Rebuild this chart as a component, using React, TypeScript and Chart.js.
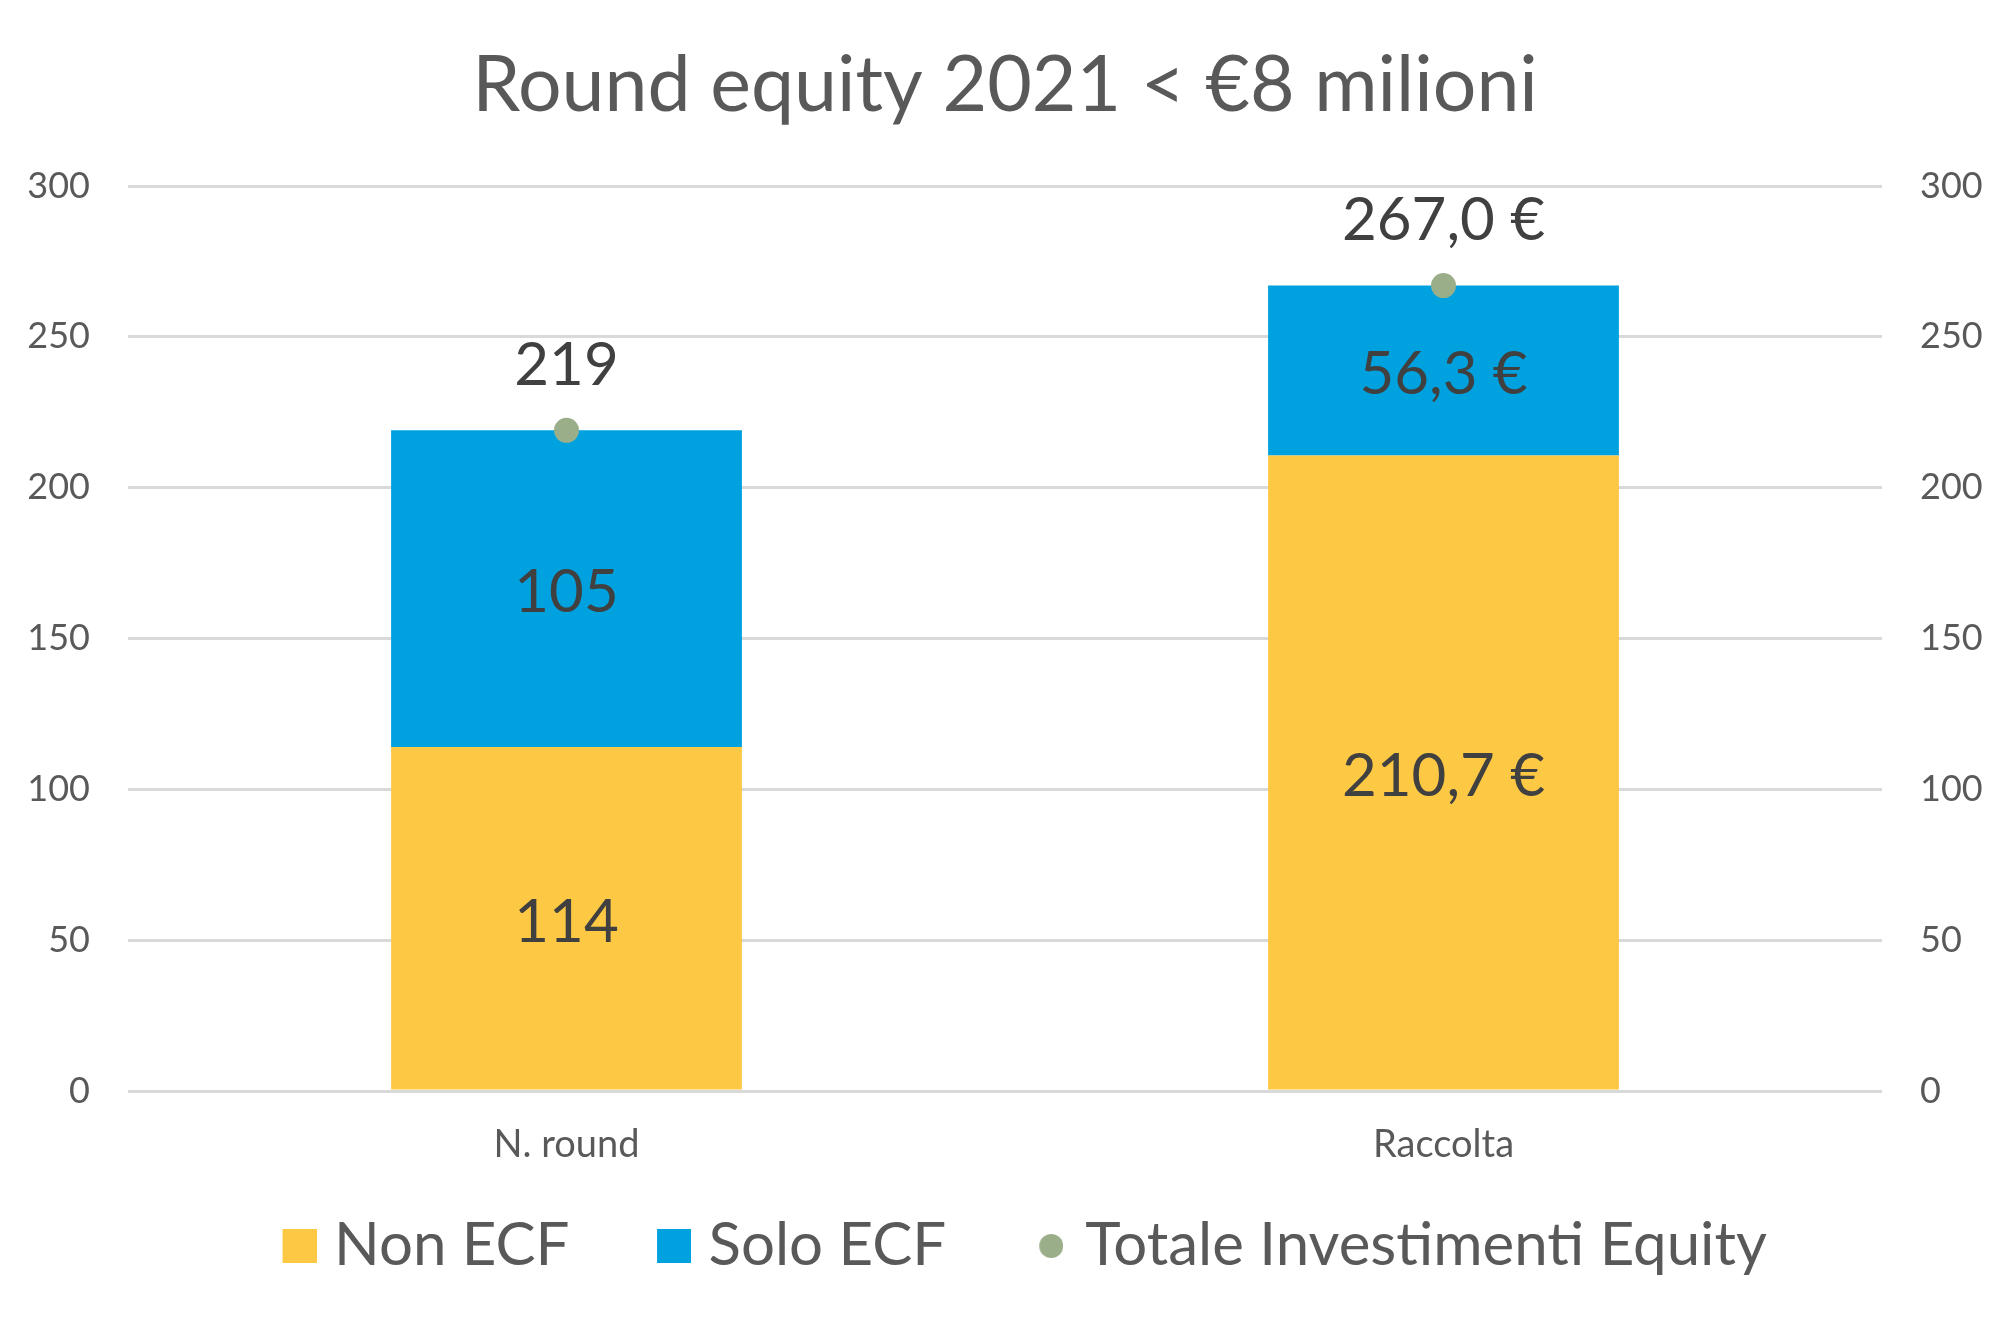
import React, { useEffect, useRef } from 'react';
import { Chart, registerables } from 'chart.js';

Chart.register(...registerables);

const chartTitle = 'Round equity 2021 < €8 milioni';
const categories = ['N. round', 'Raccolta'];
const seriesNames = ['Non ECF', 'Solo ECF', 'Totale Investimenti Equity'];
const nonEcf = [114, 210.7];
const soloEcf = [105, 56.3];
const totale = [219, 267.0];
const yMin = 0;
const yMax = 300;
const yStep = 50;

const COLORS = ['#FDC843', '#00A1DF', '#9AAF89'];
const FONT = 'Lato, "Open Sans", sans-serif';
const TEXT = '#595959';

// legend geometry
const LEG_FONT = 60;
const LEG_PAD = 48;
const LEG_LEAD = 39.5; // space before marker inside an item
const LEG_BOX_W = 61; // pointStyleWidth

function fmt(v: number, i: number): string {
  if (i === 0) return String(Math.round(v));
  return v.toFixed(1).replace('.', ',') + ' €';
}

function makeSquare(color: string): HTMLCanvasElement {
  const half = LEG_BOX_W / 2;
  const R = LEG_LEAD + 34 - half;
  const c = document.createElement('canvas');
  c.width = Math.round(2 * R);
  c.height = 34;
  const ctx = c.getContext('2d')!;
  ctx.fillStyle = color;
  ctx.fillRect(R + (LEG_LEAD - half), 0, 34, 34);
  return c;
}

function makeCircle(color: string): HTMLCanvasElement {
  const half = LEG_BOX_W / 2;
  const cx = LEG_BOX_W + 30 - 22 - 12 - half; // relative to image centre
  const R = cx + 12;
  const c = document.createElement('canvas');
  c.width = Math.round(2 * R);
  c.height = 34;
  const ctx = c.getContext('2d')!;
  ctx.fillStyle = color;
  ctx.beginPath();
  ctx.arc(R + cx, 17, 12, 0, Math.PI * 2);
  ctx.fill();
  return c;
}

const valueLabels = {
  id: 'valueLabels',
  afterDatasetsDraw(chart: any) {
    const ctx = chart.ctx;
    ctx.save();
    ctx.font = `60px ${FONT}`;
    ctx.fillStyle = '#404040';
    ctx.textAlign = 'center';
    ctx.textBaseline = 'middle';
    chart.data.datasets.forEach((ds: any, di: number) => {
      const meta = chart.getDatasetMeta(di);
      meta.data.forEach((el: any, i: number) => {
        const v = ds.data[i];
        if (meta.type === 'bar') {
          ctx.fillText(fmt(v, i), el.x, (el.y + el.base) / 2 + 4);
        } else {
          ctx.fillText(fmt(v, i), el.x, el.y - 65);
        }
      });
    });
    ctx.restore();
  },
};

export default function App() {
  const ref = useRef<HTMLCanvasElement>(null);

  useEffect(() => {
    document.body.style.margin = '0';
    const markers = [makeSquare(COLORS[0]), makeSquare(COLORS[1]), makeCircle(COLORS[2])];
    const chart = new Chart(ref.current!, {
      type: 'bar',
      data: {
        labels: categories,
        datasets: [
          {
            type: 'bar',
            label: seriesNames[0],
            data: nonEcf,
            backgroundColor: COLORS[0],
            yAxisID: 'y',
            barPercentage: 0.8,
            categoryPercentage: 0.5,
            order: 1,
          },
          {
            type: 'bar',
            label: seriesNames[1],
            data: soloEcf,
            backgroundColor: COLORS[1],
            yAxisID: 'y',
            barPercentage: 0.8,
            categoryPercentage: 0.5,
            order: 1,
          },
          {
            type: 'line',
            label: seriesNames[2],
            data: totale,
            showLine: false,
            backgroundColor: COLORS[2],
            borderColor: COLORS[2],
            pointRadius: 12.5,
            pointBorderWidth: 0,
            yAxisID: 'y2',
            order: 0,
          } as any,
        ],
      },
      options: {
        responsive: false,
        animation: false,
        devicePixelRatio: 1,
        layout: { padding: { left: 0, right: 0, top: 0, bottom: 37 } },
        plugins: {
          title: {
            display: true,
            text: chartTitle,
            color: TEXT,
            font: { family: FONT, size: 77, weight: 'normal' as any, lineHeight: 1.2 },
            padding: { top: 40, bottom: 53.6 },
          },
          legend: {
            position: 'bottom',
            labels: {
              usePointStyle: true,
              pointStyleWidth: LEG_BOX_W,
              padding: LEG_PAD,
              color: TEXT,
              font: { family: FONT, size: LEG_FONT },
              generateLabels: (c: any) =>
                c.data.datasets.map((ds: any, i: number) => ({
                  text: ds.label,
                  fillStyle: COLORS[i],
                  strokeStyle: COLORS[i],
                  lineWidth: 0,
                  pointStyle: markers[i],
                  hidden: false,
                  datasetIndex: i,
                  fontColor: TEXT,
                })),
            },
          },
          tooltip: { enabled: false },
        },
        scales: {
          x: {
            stacked: true,
            grid: { display: false, drawTicks: false },
            border: { display: false },
            ticks: {
              color: TEXT,
              font: { family: FONT, size: 38 },
              padding: 31,
            },
            afterFit: (s: any) => {
              s.height = 77;
            },
          },
          y: {
            stacked: true,
            position: 'left',
            min: yMin,
            max: yMax,
            grid: { color: '#D9D9D9', lineWidth: 3, drawTicks: false },
            border: { display: false },
            ticks: {
              stepSize: yStep,
              color: TEXT,
              font: { family: FONT, size: 36 },
              padding: 38,
            },
            afterFit: (s: any) => {
              s.width = 128;
            },
          },
          y2: {
            position: 'right',
            min: yMin,
            max: yMax,
            grid: { display: false, drawTicks: false },
            border: { display: false },
            ticks: {
              stepSize: yStep,
              color: TEXT,
              font: { family: FONT, size: 36 },
              padding: 38,
            },
            afterFit: (s: any) => {
              s.width = 128;
            },
          },
        },
      },
      plugins: [valueLabels],
    });
    return () => chart.destroy();
  }, []);

  return <canvas ref={ref} width={2010} height={1323} style={{ display: 'block' }} />;
}
